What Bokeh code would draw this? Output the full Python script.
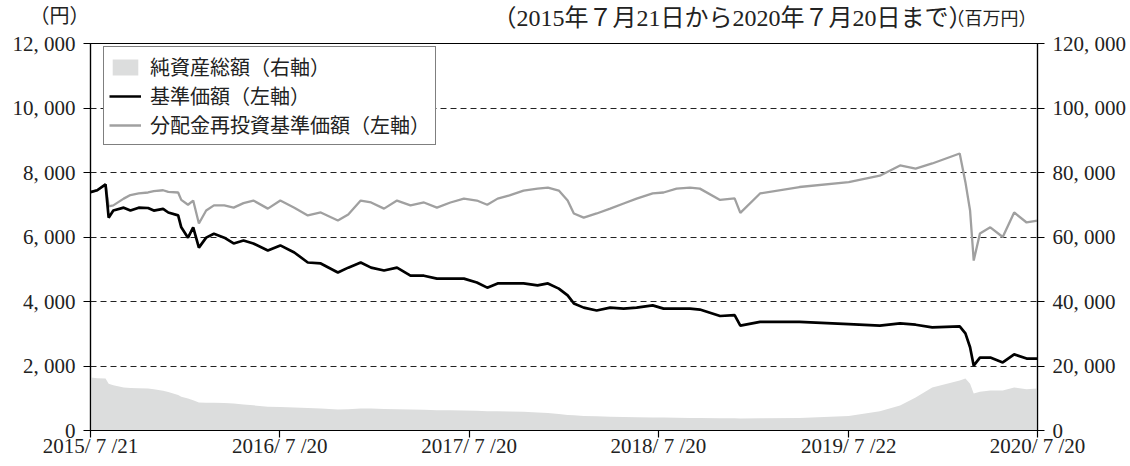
import pandas as pd
from bokeh.plotting import figure
from bokeh.layouts import column
from bokeh.models import (ColumnDataSource, Range1d, LinearAxis, FixedTicker,
                          Legend, LegendItem)
from bokeh.core.properties import value
from bokeh.embed import file_html
from bokeh.resources import INLINE

# ---------------- data ----------------
dates = ["2015-07-21", "2015-08-03", "2015-08-19", "2015-08-25", "2015-09-03", "2015-09-23",
         "2015-10-06", "2015-10-22", "2015-11-09", "2015-11-20", "2015-12-08", "2015-12-18",
         "2016-01-06", "2016-01-12", "2016-01-25", "2016-02-04", "2016-02-15", "2016-02-29",
         "2016-03-15", "2016-04-04", "2016-04-22", "2016-05-11", "2016-05-30", "2016-06-27",
         "2016-07-21", "2016-08-17", "2016-09-12", "2016-10-07", "2016-11-09", "2016-11-29",
         "2016-12-23", "2017-01-12", "2017-02-06", "2017-03-03", "2017-03-29", "2017-04-24",
         "2017-05-19", "2017-06-14", "2017-07-10", "2017-08-04", "2017-08-24", "2017-09-13",
         "2017-10-06", "2017-11-02", "2017-11-29", "2017-12-19", "2018-01-09", "2018-01-26",
         "2018-02-07", "2018-02-26", "2018-03-23", "2018-04-18", "2018-05-14", "2018-06-08",
         "2018-07-09", "2018-07-30", "2018-08-24", "2018-09-19", "2018-10-08", "2018-11-16",
         "2018-12-14", "2018-12-25", "2019-02-01", "2019-04-18", "2019-07-22", "2019-09-20",
         "2019-10-29", "2019-11-28", "2019-12-30", "2020-02-21", "2020-03-03", "2020-03-12",
         "2020-03-19", "2020-03-31", "2020-04-20", "2020-05-14", "2020-06-05", "2020-06-29",
         "2020-07-20"]

# 基準価額（円, 左軸）
nav = [7390, 7450, 7630, 6600, 6820, 6910, 6820, 6910, 6900, 6820, 6870, 6760,
       6670, 6300, 5980, 6300, 5670, 5980, 6100, 5980, 5800, 5890, 5800, 5580,
       5740, 5520, 5210, 5180, 4900, 5050, 5210, 5050, 4960, 5050, 4800, 4800,
       4710, 4710, 4710, 4590, 4430, 4560, 4560, 4560, 4500, 4560, 4400, 4190,
       3940, 3810, 3720, 3810, 3780, 3810, 3880, 3780, 3780, 3780, 3750, 3550,
       3580, 3250, 3370, 3370, 3300, 3250, 3320, 3280, 3200, 3230, 3010, 2580,
       2010, 2260, 2260, 2110, 2360, 2230, 2230]

# 分配金再投資基準価額（円, 左軸）
reinv = [7390, 7450, 7630, 6950, 6980, 7190, 7300, 7350, 7380, 7420, 7450, 7400,
         7380, 7150, 7000, 7130, 6420, 6820, 6980, 6980, 6910, 7050, 7130, 6880,
         7130, 6910, 6670, 6760, 6510, 6700, 7130, 7070, 6880, 7130, 6980, 7070,
         6910, 7070, 7190, 7130, 7000, 7190, 7290, 7440, 7500, 7530, 7440, 7130,
         6730, 6600, 6730, 6880, 7040, 7190, 7350, 7380, 7500, 7530, 7500, 7150,
         7200, 6750, 7350, 7550, 7700, 7900, 8220, 8120, 8280, 8590, 7700, 6820,
         5270, 6110, 6300, 6000, 6760, 6450, 6510]

# 純資産総額（百万円, 右軸）
assets = [16400, 16200, 16100, 14500, 14000, 13300, 13200, 13100, 13000, 12800, 12300, 11900,
          11000, 10500, 9900, 9400, 8700, 8600, 8600, 8500, 8400, 8100, 7800, 7400,
          7300, 7100, 7000, 6800, 6500, 6600, 6800, 6800, 6700, 6600, 6500, 6400,
          6300, 6300, 6200, 6100, 6000, 6000, 5900, 5800, 5600, 5400, 5100, 4800,
          4700, 4500, 4400, 4300, 4200, 4100, 4000, 4000, 3950, 3900, 3900, 3800,
          3800, 3700, 3800, 3900, 4500, 6000, 7750, 10200, 13300, 15500, 16100, 14500,
          11500, 12000, 12400, 12400, 13300, 12800, 13000]

x_tick_dates = ["2015-07-21", "2016-07-20", "2017-07-20", "2018-07-20", "2019-07-22", "2020-07-20"]
x_tick_labels = ["2015/ 7 /21", "2016/ 7 /20", "2017/ 7 /20", "2018/ 7 /20", "2019/ 7 /22", "2020/ 7 /20"]
left_ticks = [0, 2000, 4000, 6000, 8000, 10000, 12000]
left_labels = ["0", "2, 000", "4, 000", "6, 000", "8, 000", "10, 000", "12, 000"]
right_ticks = [0, 20000, 40000, 60000, 80000, 100000, 120000]
right_labels = ["0", "20, 000", "40, 000", "60, 000", "80, 000", "100, 000", "120, 000"]

legend_labels = ["純資産総額（右軸）", "基準価額（左軸）", "分配金再投資基準価額（左軸）"]
title_period = "（2015年７月21日から2020年７月20日まで）"
unit_left = "（円）"
unit_right = "（百万円）"

# ---------------- chart ----------------
FONT = "'Liberation Serif', 'Noto Sans CJK JP', serif"
TXT = "#222222"
FRAME_W = 947


def ms(d):
    return pd.Timestamp(d).value / 1e6


# header strip: frame aligned with the main frame (page x 90 .. 1037)
header = figure(frame_width=FRAME_W, frame_height=30,
                x_range=Range1d(90, 90 + FRAME_W), y_range=Range1d(30, 0),
                output_backend="svg", toolbar_location=None,
                min_border_left=90, min_border_right=83, min_border_top=0, min_border_bottom=0,
                outline_line_color=None, background_fill_color="white",
                border_fill_color="white")
header.xaxis.visible = False
header.grid.visible = False
hy = header.yaxis[0]
hy.ticker = FixedTicker(ticks=[])
hy.axis_line_color = None
hy.major_tick_line_color = None
hy.minor_tick_line_color = None
hy.major_label_text_font_size = "0px"
hy.axis_label = unit_left
hy.axis_label_orientation = "horizontal"
hy.axis_label_standoff = 1
hy.axis_label_text_font = FONT
hy.axis_label_text_font_size = "20px"
hy.axis_label_text_font_style = "normal"
hy.axis_label_text_color = TXT

header.text(x=[972], y=[17], text=[title_period], text_font=value(FONT), text_font_size="24px",
            text_align="right", text_baseline="middle", text_color=TXT)
header.text(x=[946], y=[18], text=[unit_right], text_font=value(FONT), text_font_size="18px",
            text_align="left", text_baseline="middle", text_color=TXT)

src = ColumnDataSource(dict(x=[pd.Timestamp(d) for d in dates], nav=nav, reinv=reinv, assets=assets))

x0, x1 = ms(dates[0]), ms(dates[-1])
p = figure(frame_width=FRAME_W, frame_height=387, x_axis_type="datetime",
           x_range=Range1d(x0, x1), y_range=Range1d(0, 12000),
           output_backend="svg", toolbar_location=None,
           min_border_left=90, min_border_right=83, min_border_top=13, min_border_bottom=30,
           background_fill_color="white", border_fill_color="white")
p.extra_y_ranges = {"right": Range1d(0, 120000)}

area = p.varea(x="x", y1=0, y2="assets", source=src, y_range_name="right",
               fill_color="#dcdddd", fill_alpha=1.0)
l_reinv = p.line(x="x", y="reinv", source=src, line_color="#a0a0a0", line_width=2.3)
l_nav = p.line(x="x", y="nav", source=src, line_color="#000000", line_width=2.7)

# axes
xt = [ms(d) for d in x_tick_dates]
xa = p.xaxis[0]
xa.ticker = FixedTicker(ticks=xt)
xa.major_label_overrides = {t: lab for t, lab in zip(xt, x_tick_labels)}

ya = p.yaxis[0]
ya.ticker = FixedTicker(ticks=left_ticks)
ya.major_label_overrides = {t: lab for t, lab in zip(left_ticks, left_labels)}

ra = LinearAxis(y_range_name="right", ticker=FixedTicker(ticks=right_ticks))
ra.major_label_overrides = {t: lab for t, lab in zip(right_ticks, right_labels)}
p.add_layout(ra, "right")

for ax in [xa, ya, ra]:
    ax.axis_line_color = "black"
    ax.axis_line_width = 1.2
    ax.major_tick_line_color = "black"
    ax.major_tick_line_width = 1.2
    ax.major_tick_in = 0
    ax.major_tick_out = 7
    ax.minor_tick_line_color = None
    ax.major_label_text_font = FONT
    ax.major_label_text_font_size = "21px"
    ax.major_label_text_color = TXT
xa.major_label_standoff = -4
ya.major_label_standoff = 8
ra.major_label_standoff = 8

# grid
p.xgrid.visible = False
p.ygrid.ticker = FixedTicker(ticks=[2000, 4000, 6000, 8000, 10000])
p.ygrid.grid_line_color = "#222222"
p.ygrid.grid_line_width = 1.1
p.ygrid.grid_line_dash = "6 4"

p.outline_line_color = "black"
p.outline_line_width = 1.2
p.outline_line_alpha = 1.0

# legend
legend = Legend(items=[LegendItem(label=legend_labels[0], renderers=[area]),
                       LegendItem(label=legend_labels[1], renderers=[l_nav]),
                       LegendItem(label=legend_labels[2], renderers=[l_reinv])],
                location=(13, 285), orientation="vertical",
                border_line_color="black", border_line_width=1.2,
                background_fill_color="white", background_fill_alpha=1.0,
                label_text_font=FONT, label_text_font_size="20px", label_text_color=TXT,
                label_text_line_height=1.0,
                glyph_width=32, glyph_height=20, label_height=20, spacing=0,
                padding=5, margin=0, label_standoff=9)
p.add_layout(legend, "center")

layout = column(header, p, spacing=0)
open("out.html", "w").write(file_html(layout, INLINE))
